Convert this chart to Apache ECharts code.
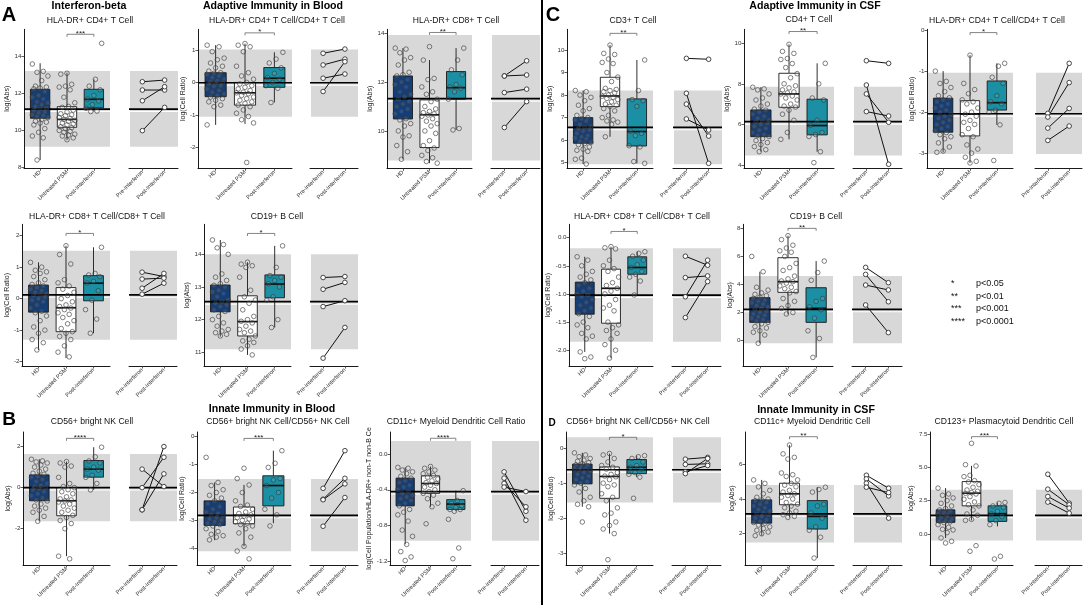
<!DOCTYPE html>
<html><head><meta charset="utf-8">
<script src="https://cdn.jsdelivr.net/npm/echarts@6/dist/echarts.min.js"></script>
<style>html,body{margin:0;padding:0;background:#fff}#c{width:1084px;height:605px}</style>
</head><body><div id="c"></div>
<script>
const groupLabels = ['HD', 'Untreated PSM', 'Post-Interferon'];
const pairLabels = ['Pre-Interferon', 'Post-Interferon'];

// ===== A1 HLA-DR+ CD4+ T Cell (blood, log Abs) =====
const A1_hd = [13.6,13.2,13.15,12.95,12.7,12.4,12.35,12.3,12.25,12.1,11.9,11.8,11.7,11.55,11.5,11.4,11.3,11.2,11.15,11.1,11.0,10.95,10.85,10.8,10.75,10.7,10.6,10.5,10.45,10.4,10.3,10.1,9.9,9.7,9.6,8.4];
const A1_untreated = [13.1,13.05,12.5,12.4,12.35,12.2,11.8,11.5,11.3,11.25,11.1,11.0,10.9,10.85,10.8,10.7,10.65,10.6,10.55,10.5,10.4,10.35,10.3,10.2,10.15,10.1,10.0,9.95,9.9,9.8,9.75,9.7,9.6,9.5];
const A1_post = [14.72,12.77,12.4,12.2,11.9,11.7,11.6,11.4,11.2,11.05,11.02];
const A1_box = [[8.4,10.66,11.16,12.23,13.64],[9.48,10.17,10.6,11.29,13.13],[11.02,11.23,11.69,12.23,12.77]];
const A1_ref = [9.12,13.22,11.16];
const A1_pre = [12.64,12.19,11.61,9.99];
const A1_after = [12.73,12.19,12.37,11.25];

// ===== A2 HLA-DR+ CD4+ T Cell/CD4+ T Cell (blood) =====
const A2_hd = [1.15,1.1,0.95,0.75,0.7,0.6,0.5,0.45,0.35,0.3,0.28,0.25,0.2,0.15,0.1,0.05,0.02,0,-0.02,-0.05,-0.1,-0.12,-0.2,-0.25,-0.3,-0.35,-0.4,-0.45,-0.5,-0.55,-0.6,-0.7,-0.75,-1.31];
const A2_untreated = [1.2,1.15,1.1,0.95,0.5,0.3,0.2,0.1,0.0,-0.05,-0.1,-0.15,-0.2,-0.25,-0.3,-0.32,-0.35,-0.4,-0.45,-0.5,-0.55,-0.6,-0.65,-0.7,-0.75,-0.85,-0.95,-1.05,-1.15,-1.25,-2.47];
const A2_post = [0.93,0.72,0.6,0.45,0.28,0.15,0.1,0.0,-0.1,-0.18,-0.62];
const A2_box = [[-1.31,-0.44,0.0,0.30,1.15],[-1.28,-0.70,-0.32,0.0,1.2],[-0.62,-0.15,0.13,0.46,0.93]];
const A2_ref = [-1.06,1.02,-0.01];
const A2_pre = [0.9,0.54,0.13,-0.28];
const A2_after = [1.03,0.72,0.26,0.64];

// ===== A3 HLA-DR+ CD8+ T Cell (blood, log Abs) =====
const A3_hd = [13.39,13.35,13.2,13.0,12.9,12.7,12.4,12.3,12.25,12.1,12.0,11.9,11.8,11.6,11.5,11.4,11.3,11.2,11.1,11.0,10.9,10.8,10.7,10.5,10.45,10.3,10.2,10.0,9.8,9.75,9.4,9.15,8.84];
const A3_untreated = [13.45,12.9,12.15,12.1,11.8,11.6,11.5,11.3,11.2,11.0,10.9,10.8,10.75,10.7,10.65,10.6,10.5,10.4,10.3,10.2,10.0,9.9,9.6,9.4,9.3,9.2,9.0,8.9,8.75,8.68];
const A3_post = [13.39,12.9,12.5,12.3,11.9,11.8,11.75,11.6,11.3,10.1,10.04];
const A3_box = [[8.84,10.49,11.32,12.25,13.39],[8.68,9.32,10.66,11.27,12.9],[10.04,11.30,11.77,12.43,13.39]];
const A3_ref = [8.79,13.93,11.32];
const A3_pre = [12.25,12.25,11.57,10.14];
const A3_after = [12.87,12.29,11.71,11.2];

// ===== C1 CD3+ T Cell (CSF, log Abs) =====
const C1_hd = [8.2,8.15,8.0,7.9,7.75,7.55,7.4,7.3,7.1,7.0,6.95,6.9,6.85,6.7,6.6,6.55,6.5,6.45,6.4,6.3,6.2,6.15,6.1,6.05,5.95,5.9,5.85,5.8,5.7,5.6,5.55,5.5,5.2,5.15,4.94];
const C1_untreated = [10.22,9.85,9.8,9.6,9.45,9.4,9.0,8.8,8.6,8.3,8.25,8.2,8.15,8.1,8.0,7.95,7.9,7.85,7.8,7.7,7.6,7.55,7.5,7.4,7.3,7.1,7.0,6.9,6.85,6.8,6.7,6.15];
const C1_post = [9.56,8.2,7.8,7.75,7.5,6.4,6.3,6.2,5.75,5.7,5.05,4.97];
const C1_box = [[4.94,5.86,6.57,7.0,8.2],[6.15,7.49,7.96,8.79,10.22],[4.97,5.74,6.38,7.83,9.56]];
const C1_ref = [4.93,8.2,6.57];
const C1_pre = [9.63,8.08,7.6,6.94];
const C1_after = [9.59,4.97,6.18,6.45];

// ===== C2 CD4+ T Cell (CSF, log Abs) =====
const C2_hd = [7.83,7.75,7.7,7.5,7.3,7.2,7.0,6.9,6.75,6.7,6.6,6.5,6.4,6.3,6.2,6.15,6.1,6.05,6.0,5.9,5.8,5.7,5.6,5.5,5.45,5.4,5.3,5.2,5.1,5.0,4.9,4.75,4.65];
const C2_untreated = [9.95,9.6,9.5,9.25,9.2,9.0,8.8,8.5,8.3,8.0,7.9,7.8,7.7,7.6,7.55,7.5,7.4,7.3,7.2,7.0,6.9,6.85,6.7,6.5,6.2,5.6,5.26];
const C2_post = [9.01,8.0,7.3,7.2,6.2,5.95,5.6,5.5,5.4,4.65,4.11];
const C2_box = [[4.65,5.39,6.13,6.71,7.83],[5.26,6.84,7.5,8.52,9.95],[4.65,5.48,5.94,7.24,9.01]];
const C2_ref = [4.46,7.86,6.13];
const C2_pre = [9.14,7.94,7.5,6.63];
const C2_after = [9.01,4.03,6.1,6.41];

// ===== C3 HLA-DR+ CD4+ T Cell/CD4+ T Cell (CSF) =====
const C3_hd = [-1.0,-1.25,-1.3,-1.4,-1.5,-1.6,-1.65,-1.7,-1.75,-1.8,-1.85,-1.9,-1.95,-2.0,-2.05,-2.1,-2.15,-2.2,-2.25,-2.3,-2.35,-2.4,-2.45,-2.5,-2.55,-2.6,-2.65,-2.75,-2.85,-2.95,-2.98];
const C3_untreated = [-0.61,-1.3,-1.45,-1.55,-1.7,-1.75,-1.8,-1.9,-2.0,-2.05,-2.1,-2.2,-2.25,-2.3,-2.4,-2.55,-2.6,-2.8,-2.9,-3.0,-3.1,-3.2,-3.24];
const C3_post = [-0.81,-0.88,-1.15,-1.3,-1.6,-1.75,-1.8,-1.95,-2.0,-2.31,-3.18];
const C3_box = [[-2.98,-2.49,-2.04,-1.66,-1.0],[-3.24,-2.58,-2.05,-1.72,-0.61],[-2.31,-1.95,-1.77,-1.24,-0.81]];
const C3_ref = [-3.02,-1.04,-2.04];
const C3_pre = [-2.03,-2.12,-2.39,-2.69];
const C3_after = [-0.81,-1.28,-1.91,-2.34];

// ===== A4 HLA-DR+ CD8+ T Cell/CD8+ T Cell (blood) =====
const A4_hd = [1.15,1.0,0.9,0.85,0.8,0.7,0.6,0.5,0.45,0.4,0.35,0.3,0.25,0.2,0.15,0.12,0.1,0.05,0.0,-0.05,-0.1,-0.2,-0.3,-0.4,-0.45,-0.55,-0.7,-0.9,-1.0,-1.1,-1.3,-1.4,-1.63];
const A4_untreated = [1.68,1.4,1.1,0.6,0.5,0.4,0.3,0.2,0.1,0.0,-0.1,-0.2,-0.25,-0.3,-0.35,-0.45,-0.5,-0.6,-0.7,-0.8,-0.95,-1.05,-1.1,-1.2,-1.3,-1.5,-1.7,-1.85];
const A4_post = [1.63,0.8,0.75,0.7,0.55,0.5,0.25,-0.05,-0.35,-0.65,-1.1];
const A4_box = [[-1.63,-0.43,0.12,0.43,1.15],[-1.89,-1.05,-0.29,0.35,1.68],[-1.1,-0.07,0.49,0.73,1.63]];
const A4_ref = [-1.31,1.52,0.12];
const A4_pre = [0.84,0.62,0.33,0.14];
const A4_after = [0.7,0.65,0.8,0.49];

// ===== A5 CD19+ B Cell (blood, log Abs) =====
const A5_hd = [14.44,14.3,14.2,14.0,13.4,13.3,13.2,13.1,13.05,13.0,12.9,12.85,12.8,12.7,12.6,12.55,12.5,12.45,12.4,12.3,12.25,12.1,12.0,11.9,11.8,11.7,11.65,11.6,11.55,11.5];
const A5_untreated = [13.76,13.7,13.65,13.6,13.3,12.9,12.7,12.6,12.5,12.3,12.1,12.0,11.95,11.9,11.8,11.7,11.65,11.6,11.5,11.4,11.35,11.3,11.2,11.1,10.92];
const A5_post = [14.26,13.6,13.35,13.3,13.2,13.1,13.0,12.7,12.6,12.0,11.76];
const A5_box = [[11.48,12.24,12.55,13.06,14.44],[10.92,11.5,11.94,12.73,13.76],[11.76,12.67,13.09,13.37,14.26]];
const A5_ref = [11.09,14.0,12.55];
const A5_pre = [13.29,12.93,12.4,10.82];
const A5_after = [13.32,13.14,12.58,11.76];

// ===== C4 HLA-DR+ CD8+ T Cell/CD8+ T Cell (CSF) =====
const C4_hd = [-0.34,-0.4,-0.5,-0.6,-0.65,-0.7,-0.75,-0.8,-0.85,-0.9,-0.95,-1.0,-1.02,-1.05,-1.1,-1.15,-1.2,-1.25,-1.3,-1.35,-1.4,-1.5,-1.55,-1.6,-1.7,-1.75,-1.8,-2.03,-2.12,-2.15];
const C4_untreated = [-0.16,-0.18,-0.2,-0.4,-0.5,-0.55,-0.6,-0.7,-0.8,-0.85,-0.9,-0.95,-1.0,-1.1,-1.2,-1.25,-1.3,-1.5,-1.55,-1.6,-1.65,-1.7,-1.8,-1.9,-2.0,-2.14];
const C4_post = [-0.25,-0.28,-0.33,-0.4,-0.48,-0.53,-0.6,-0.65,-0.7,-0.77,-1.02];
const C4_box = [[-2.03,-1.36,-1.02,-0.79,-0.34],[-2.14,-1.52,-0.9,-0.56,-0.16],[-1.02,-0.65,-0.53,-0.34,-0.25]];
const C4_ref = [-1.85,-0.19,-1.02];
const C4_pre = [-0.33,-0.71,-1.05,-1.42];
const C4_after = [-0.49,-0.68,-0.4,-0.78];

// ===== C5 CD19+ B Cell (CSF, log Abs) =====
const C5_hd = [6.0,4.91,3.8,3.6,3.4,3.3,3.2,3.1,3.0,2.9,2.8,2.7,2.6,2.5,2.4,2.3,2.2,2.1,2.0,1.9,1.8,1.7,1.6,1.5,1.4,1.3,1.2,1.0,0.9,0.7,0.6,0.4,-0.19];
const C5_untreated = [7.48,7.2,6.8,6.6,6.4,6.3,6.0,5.5,5.2,5.0,4.6,4.4,4.25,4.2,4.1,3.9,3.8,3.7,3.5,3.4,3.0,2.8,2.5,2.3,2.0,1.9];
const C5_post = [5.67,4.85,4.3,3.0,2.8,2.4,2.2,1.6,0.7,0.15,-1.2];
const C5_box = [[-0.19,1.3,2.23,3.06,4.91],[1.87,3.44,4.2,5.91,7.48],[-1.2,1.3,2.3,3.77,5.67]];
const C5_ref = [-0.19,4.6,2.23];
const C5_pre = [5.22,4.72,3.96,2.54];
const C5_after = [4.13,2.77,3.61,0.57];

// ===== B1 CD56+ bright NK Cell (blood, log Abs) =====
const B1_hd = [1.38,1.3,1.25,1.2,1.1,1.0,0.9,0.8,0.7,0.65,0.55,0.5,0.4,0.3,0.2,0.1,0.05,0.0,-0.05,-0.1,-0.2,-0.3,-0.4,-0.5,-0.6,-0.65,-0.8,-0.9,-1.0,-1.1,-1.2,-1.4,-1.64];
const B1_untreated = [1.27,1.2,1.05,1.0,0.5,0.2,0.05,0.0,-0.1,-0.2,-0.3,-0.45,-0.55,-0.6,-0.65,-0.7,-0.8,-0.9,-1.0,-1.1,-1.2,-1.35,-1.45,-1.6,-1.75,-2.0,-3.34,-3.47];
const B1_post = [1.97,1.5,1.3,1.2,1.0,0.9,0.85,0.6,0.5,0.2,-0.11];
const B1_box = [[-1.64,-0.64,0.0,0.62,1.38],[-3.34,-1.37,-0.64,0.0,1.27],[-0.11,0.51,0.9,1.32,1.97]];
const B1_ref = [-1.64,1.64,0.0];
const B1_pre = [0.9,0.0,-1.08,-1.08];
const B1_after = [0.05,1.48,2.0,0.67];

// ===== B2 CD56+ bright NK Cell/CD56+ NK Cell (blood) =====
const B2_hd = [-0.74,-1.64,-1.75,-1.9,-2.0,-2.1,-2.2,-2.3,-2.4,-2.5,-2.6,-2.7,-2.75,-2.8,-2.85,-2.9,-2.95,-3.0,-3.05,-3.1,-3.15,-3.2,-3.3,-3.4,-3.5,-3.55,-3.6,-3.7];
const B2_untreated = [-1.13,-1.5,-1.73,-2.0,-2.3,-2.45,-2.5,-2.6,-2.7,-2.75,-2.8,-2.85,-2.9,-2.95,-3.0,-3.05,-3.1,-3.15,-3.2,-3.3,-3.45,-3.6,-3.93,-4.1,-4.38];
const B2_post = [-0.5,-0.95,-1.1,-1.5,-1.55,-1.75,-2.0,-2.2,-2.6,-2.8,-3.2];
const B2_box = [[-3.71,-3.18,-2.82,-2.3,-1.64],[-3.93,-3.12,-2.82,-2.52,-1.73],[-3.1,-2.48,-1.75,-1.4,-0.5]];
const B2_ref = [-4.11,-1.52,-2.82];
const B2_pre = [-1.85,-2.24,-2.26,-3.21];
const B2_after = [-0.5,-1.49,-1.69,-2.18];

// ===== B3 CD11c+ Myeloid Dendritic Cell Ratio (blood) =====
const B3_hd = [-0.15,-0.16,-0.18,-0.2,-0.22,-0.25,-0.27,-0.3,-0.32,-0.35,-0.37,-0.4,-0.42,-0.44,-0.46,-0.48,-0.5,-0.52,-0.55,-0.58,-0.62,-0.65,-0.68,-0.75,-0.85,-0.92,-1.01,-1.09,-1.15,-1.19];
const B3_untreated = [-0.14,-0.16,-0.18,-0.2,-0.22,-0.24,-0.26,-0.28,-0.3,-0.32,-0.33,-0.35,-0.37,-0.4,-0.42,-0.44,-0.46,-0.5,-0.55,-0.59,-0.78];
const B3_post = [-0.41,-0.52,-0.55,-0.58,-0.6,-0.62,-0.62,-0.64,-0.73,-1.05,-1.17];
const B3_box = [[-1.01,-0.58,-0.42,-0.27,-0.15],[-0.59,-0.44,-0.33,-0.245,-0.14],[-0.64,-0.62,-0.56,-0.51,-0.41]];
const B3_ref = [-0.97,0.145,-0.42];
const B3_pre = [-0.2,-0.27,-0.33,-0.37];
const B3_after = [-0.64,-0.74,-0.59,-0.42];

// ===== D1 CD56+ bright NK Cell/CD56+ NK Cell (CSF) =====
const D1_hd = [-0.14,-0.2,-0.25,-0.3,-0.35,-0.38,-0.42,-0.45,-0.48,-0.5,-0.55,-0.58,-0.6,-0.62,-0.65,-0.7,-0.75,-0.8,-0.85,-0.9,-0.95,-1.0,-1.05,-1.15,-1.25,-1.4,-1.5,-1.6,-1.67,-2.1];
const D1_untreated = [-0.16,-0.2,-0.3,-0.4,-0.5,-0.55,-0.6,-0.7,-0.75,-0.8,-0.82,-0.9,-1.0,-1.05,-1.1,-1.3,-1.4,-1.5,-1.7,-1.85,-1.9,-2.1,-2.2,-2.3,-2.43,-3.17];
const D1_post = [-0.22,-0.25,-0.3,-0.4,-0.5,-0.55,-0.6,-0.7,-0.75,-0.83,-1.43];
const D1_box = [[-1.67,-1.02,-0.62,-0.46,-0.14],[-2.43,-1.43,-0.81,-0.54,-0.16],[-0.83,-0.73,-0.55,-0.33,-0.22]];
const D1_ref = [-1.55,0.3,-0.62];
const D1_pre = [-0.32,-0.47,-0.68,-0.73];
const D1_after = [-0.27,-0.45,-0.5,-0.3];

// ===== D2 CD11c+ Myeloid Dendritic Cell (CSF, log Abs) =====
const D2_hd = [5.1,4.9,4.7,4.5,4.3,4.1,4.0,3.95,3.9,3.8,3.7,3.6,3.5,3.4,3.3,3.2,3.15,3.1,3.0,2.9,2.8,2.7,2.65,2.6,2.5,2.4,2.3,2.2,2.1,2.0,1.89];
const D2_untreated = [7.11,6.6,6.4,6.3,5.5,5.4,5.3,5.1,4.9,4.8,4.7,4.5,4.4,4.3,4.2,4.1,4.0,3.8,3.7,3.6,3.5,3.3,3.2,3.1,3.0,2.94];
const D2_post = [4.68,4.55,4.4,3.7,3.6,3.2,2.9,2.4,2.2,1.8,0.6];
const D2_box = [[1.89,2.61,3.15,3.95,5.1],[2.94,3.67,4.3,4.91,7.11],[0.6,2.27,3.0,3.91,4.68]];
const D2_ref = [1.5,4.81,3.15];
const D2_pre = [5.37,5.16,4.91,4.68];
const D2_after = [4.62,4.18,2.9,4.37];

// ===== D3 CD123+ Plasmacytoid Dendritic Cell (CSF, log Abs) =====
const D3_hd = [3.44,3.0,2.9,2.7,2.5,2.3,2.1,1.9,1.8,1.7,1.6,1.5,1.45,1.4,1.35,1.3,1.2,1.1,1.0,0.95,0.9,0.85,0.7,0.5,0.35,0.3,0.1,-0.3,-0.55,-0.68];
const D3_untreated = [6.8,5.2,5.1,4.4,4.3,4.0,3.9,3.7,3.5,3.3,3.2,3.1,3.05,3.0,2.8,2.6,2.4,2.2,2.1,1.8,1.5,1.4,1.1,1.02,-0.88,-1.3];
const D3_post = [2.36,2.3,2.1,2.0,1.7,1.5,1.3,1.0,0.7,-1.68,-1.88];
const D3_box = [[-0.3,0.87,1.39,1.81,3.44],[1.02,2.11,3.06,3.93,5.11],[0.57,0.94,1.52,2.11,2.36]];
const D3_ref = [-0.5,3.31,1.39];
const D3_pre = [4.48,3.36,2.81,2.39];
const D3_after = [2.31,2.19,1.94,1.56];

// tick labels per panel
const A1_ticks=[8,10,12,14], A2_ticks=[-2,-1,0,1], A3_ticks=[10,12,14], C1_ticks=[5,6,7,8,9,10], C2_ticks=[4,6,8,10], C3_ticks=[-3,-2,-1,0];
const A4_ticks=[-2,-1,0,1,2], A5_ticks=[11,12,13,14], C4_ticks=[-2,-1.5,-1,-0.5,0], C5_ticks=[0,2,4,6,8];
const B1_ticks=[-2,0,2], B2_ticks=[-4,-3,-2,-1,0], B3_ticks=[-1.2,-0.8,-0.4,0], D1_ticks=[-3,-2,-1,0], D2_ticks=[2,4,6], D3_ticks=[0,2.5,5,7.5];

const FONT = '"Liberation Sans", Arial, Helvetica, sans-serif';
const R1 = {top:29.3, h:139}, R2 = {top:224.3, h:141.7}, R3 = {top:432, h:133};

const panels = [
 {title:'HLA-DR+ CD4+ T Cell', yName:'log(Abs)', ticks:A1_ticks, dec:0, yMin:7.95, yMax:15.48, stars:'***', br:15.21, hd:A1_hd, un:A1_untreated, po:A1_post, box:A1_box, ref:A1_ref, pre:A1_pre, aft:A1_after, r:R1, bx:[24,110], px:[129,178], tx:90, ty:21, gap:11},
 {title:'HLA-DR+ CD4+ T Cell/CD4+ T Cell', yName:'log(Cell Ratio)', ticks:A2_ticks, dec:0, yMin:-2.65, yMax:1.64, stars:'*', br:1.53, hd:A2_hd, un:A2_untreated, po:A2_post, box:A2_box, ref:A2_ref, pre:A2_pre, aft:A2_after, r:R1, bx:[198,292], px:[310,358], tx:277, ty:21, gap:9},
 {title:'HLA-DR+ CD8+ T Cell', yName:'log(Abs)', ticks:A3_ticks, dec:0, yMin:8.47, yMax:14.16, stars:'**', br:14.03, hd:A3_hd, un:A3_untreated, po:A3_post, box:A3_box, ref:A3_ref, pre:A3_pre, aft:A3_after, r:R1, bx:[387,472], px:[491,540], tx:456, ty:21, gap:11},
 {title:'CD3+ T Cell', yName:'log(Abs)', ticks:C1_ticks, dec:0, yMin:4.75, yMax:10.92, stars:'**', br:10.74, hd:C1_hd, un:C1_untreated, po:C1_post, box:C1_box, ref:C1_ref, pre:C1_pre, aft:C1_after, r:R1, bx:[567,653], px:[673,722], tx:633, ty:21, gap:9},
 {title:'CD4+ T Cell', yName:'log(Abs)', ticks:C2_ticks, dec:0, yMin:3.83, yMax:10.69, stars:'**', br:10.58, hd:C2_hd, un:C2_untreated, po:C2_post, box:C2_box, ref:C2_ref, pre:C2_pre, aft:C2_after, r:R1, bx:[744,834], px:[853,902], tx:809, ty:20, gap:11},
 {title:'HLA-DR+ CD4+ T Cell/CD4+ T Cell', yName:'log(Cell Ratio)', ticks:C3_ticks, dec:0, yMin:-3.37, yMax:0.02, stars:'*', br:-0.06, hd:C3_hd, un:C3_untreated, po:C3_post, box:C3_box, ref:C3_ref, pre:C3_pre, aft:C3_after, r:R1, bx:[927,1013], px:[1035,1082], tx:997, ty:21, gap:9},
 {title:'HLA-DR+ CD8+ T Cell/CD8+ T Cell', yName:'log(Cell Ratio)', ticks:A4_ticks, dec:0, yMin:-2.14, yMax:2.36, stars:'*', br:2.07, hd:A4_hd, un:A4_untreated, po:A4_post, box:A4_box, ref:A4_ref, pre:A4_pre, aft:A4_after, r:R2, bx:[22,110], px:[129,177], tx:97, ty:217, gap:9},
 {title:'CD19+ B Cell', yName:'log(Abs)', ticks:A5_ticks, dec:0, yMin:10.58, yMax:14.92, stars:'*', br:14.64, hd:A5_hd, un:A5_untreated, po:A5_post, box:A5_box, ref:A5_ref, pre:A5_pre, aft:A5_after, r:R2, bx:[204,291], px:[310,358], tx:277, ty:217, gap:11},
 {title:'HLA-DR+ CD8+ T Cell/CD8+ T Cell', yName:'log(Cell Ratio)', ticks:C4_ticks, dec:1, yMin:-2.28, yMax:0.237, stars:'*', br:0.11, hd:C4_hd, un:C4_untreated, po:C4_post, box:C4_box, ref:C4_ref, pre:C4_pre, aft:C4_after, r:R2, bx:[569,653], px:[672,721], tx:642, ty:217, gap:15},
 {title:'CD19+ B Cell', yName:'log(Abs)', ticks:C5_ticks, dec:0, yMin:-1.81, yMax:8.29, stars:'**', br:8.0, hd:C5_hd, un:C5_untreated, po:C5_post, box:C5_box, ref:C5_ref, pre:C5_pre, aft:C5_after, r:R2, bx:[743,833], px:[852,902], tx:816, ty:217, gap:8},
 {title:'CD56+ bright NK Cell', yName:'log(Abs)', ticks:B1_ticks, dec:0, yMin:-3.77, yMax:2.71, stars:'****', br:2.4, hd:B1_hd, un:B1_untreated, po:B1_post, box:B1_box, ref:B1_ref, pre:B1_pre, aft:B1_after, r:R3, bx:[23,110], px:[129,177], tx:92, ty:422, gap:9},
 {title:'CD56+ bright NK Cell/CD56+ NK Cell', yName:'log(Cell Ratio)', ticks:B2_ticks, dec:0, yMin:-4.6, yMax:0.17, stars:'***', br:-0.06, hd:B2_hd, un:B2_untreated, po:B2_post, box:B2_box, ref:B2_ref, pre:B2_pre, aft:B2_after, r:R3, bx:[197,291], px:[310,358], tx:278, ty:422, gap:9},
 {title:'CD11c+ Myeloid Dendritic Cell Ratio', yName:'log(Cell Population/HLA-DR+ non-T non-B Ce', ticks:B3_ticks, dec:1, yMin:-1.24, yMax:0.245, stars:'****', br:0.175, hd:B3_hd, un:B3_untreated, po:B3_post, box:B3_box, ref:B3_ref, pre:B3_pre, aft:B3_after, r:R3, bx:[390,471], px:[491,539], tx:456, ty:422, gap:15},
 {title:'CD56+ bright NK Cell/CD56+ NK Cell', yName:'log(Cell Ratio)', ticks:D1_ticks, dec:0, yMin:-3.32, yMax:0.45, stars:'*', br:0.3, hd:D1_hd, un:D1_untreated, po:D1_post, box:D1_box, ref:D1_ref, pre:D1_pre, aft:D1_after, r:R3, bx:[566,653], px:[672,721], tx:638, ty:422, gap:9},
 {title:'CD11c+ Myeloid Dendritic Cell', yName:'log(Abs)', ticks:D2_ticks, dec:0, yMin:0.2, yMax:7.86, stars:'**', br:7.59, hd:D2_hd, un:D2_untreated, po:D2_post, box:D2_box, ref:D2_ref, pre:D2_pre, aft:D2_after, r:R3, bx:[745,834], px:[853,902], tx:812, ty:422, gap:8},
 {title:'CD123+ Plasmacytoid Dendritic Cell', yName:'log(Abs)', ticks:D3_ticks, dec:1, yMin:-2.33, yMax:7.65, stars:'***', br:7.3, hd:D3_hd, un:D3_untreated, po:D3_post, box:D3_box, ref:D3_ref, pre:D3_pre, aft:D3_after, r:R3, bx:[930,1013], px:[1035,1082], tx:1004, ty:422, gap:11}
];

const BOX_FILL = ['#143e78', '#ffffff', '#1b8fa3'];
const jit = (k, g) => ((((k * 7 + g * 5) % 11) / 10) - 0.5) * 0.58;

function renderBand(params, api) {
  const cs = params.coordSys;
  const yLo = api.coord([1, api.value(1)])[1];
  const yHi = api.coord([1, api.value(2)])[1];
  const yH = api.coord([1, api.value(3)])[1];
  return {type:'group', children:[
    {type:'rect', shape:{x:cs.x + 1, y:yHi, width:cs.width - 1, height:yLo - yHi}, style:{fill:'#d8d8d8'}},
    {type:'line', shape:{x1:cs.x + 1, y1:yH + 2.4, x2:cs.x + cs.width, y2:yH + 2.4}, style:{stroke:'#ffffff', lineWidth:1.1}}
  ]};
}
function renderHline(params, api) {
  const cs = params.coordSys;
  const y = api.coord([1, api.value(1)])[1];
  return {type:'line', shape:{x1:cs.x, y1:y, x2:cs.x + cs.width, y2:y}, style:{stroke:'#000', lineWidth:1.7}};
}
function renderBox(params, api) {
  const g = api.value(0);
  const w = api.size([0.72, 0])[0];
  const x = api.coord([g, api.value(3)])[0];
  const Y = i => api.coord([g, api.value(i)])[1];
  const yMin = Y(1), yQ1 = Y(2), yMed = Y(3), yQ3 = Y(4), yMax = Y(5);
  const ls = {stroke:'#1a1a1a', lineWidth:0.9};
  return {type:'group', children:[
    {type:'line', shape:{x1:x, y1:yMax, x2:x, y2:yQ3}, style:ls},
    {type:'line', shape:{x1:x, y1:yQ1, x2:x, y2:yMin}, style:ls},
    {type:'rect', shape:{x:x - w/2, y:yQ3, width:w, height:yQ1 - yQ3}, style:{fill:BOX_FILL[g-1], stroke:'#1a1a1a', lineWidth:0.9}},
    {type:'line', shape:{x1:x - w/2, y1:yMed, x2:x + w/2, y2:yMed}, style:{stroke:'#111', lineWidth:1.7}}
  ]};
}

const grids = [], xAxes = [], yAxes = [], series = [], graphics = [];

function xAxisDef(gi, max, vals, labels) {
  return {gridIndex:gi, type:'value', min:0.4, max:max,
    axisLine:{show:true, onZero:false, lineStyle:{color:'#000', width:0.9}},
    axisTick:{show:true, customValues:vals, length:2.5, lineStyle:{color:'#333', width:0.8}},
    axisLabel:{show:true, customValues:vals, rotate:45, fontSize:5.8, color:'#333', margin:3, fontFamily:FONT,
      formatter: v => labels[Math.round(v) - 1] || ''},
    splitLine:{show:false}};
}

panels.forEach((p) => {
  const gi = grids.length;
  grids.push({left:p.bx[0], top:p.r.top, width:p.bx[1] - p.bx[0], height:p.r.h, containLabel:false, outerBoundsMode:'none'});
  grids.push({left:p.px[0], top:p.r.top, width:p.px[1] - p.px[0], height:p.r.h, containLabel:false, outerBoundsMode:'none'});
  xAxes.push(xAxisDef(gi, 3.6, [1,2,3], groupLabels));
  xAxes.push(xAxisDef(gi + 1, 2.6, [1,2], pairLabels));
  yAxes.push({gridIndex:gi, type:'value', min:p.yMin, max:p.yMax,
    name:p.yName, nameLocation:'middle', nameGap:p.gap, nameRotate:90,
    nameTextStyle:{fontSize:7, color:'#222', fontFamily:FONT},
    axisLine:{show:true, onZero:false, lineStyle:{color:'#000', width:0.9}},
    axisTick:{show:true, customValues:p.ticks, length:2.5, lineStyle:{color:'#333', width:0.8}},
    axisLabel:{show:true, customValues:p.ticks, fontSize:6.2, color:'#333', margin:2.5, fontFamily:FONT,
      formatter: v => Number(v).toFixed(p.dec)},
    splitLine:{show:false}});
  yAxes.push({gridIndex:gi + 1, type:'value', min:p.yMin, max:p.yMax, show:false, splitLine:{show:false}});

  // box panel
  series.push({type:'custom', xAxisIndex:gi, yAxisIndex:gi, z:1, silent:true, data:[[1, p.ref[0], p.ref[1], p.ref[2]]], renderItem:renderBand});
  series.push({type:'custom', xAxisIndex:gi, yAxisIndex:gi, z:2, silent:true, data:p.box.map((b, g) => [g + 1, ...b]), renderItem:renderBox});
  series.push({type:'custom', xAxisIndex:gi, yAxisIndex:gi, z:3, silent:true, data:[[1, p.ref[2]]], renderItem:renderHline});
  const pts = [];
  [p.hd, p.un, p.po].forEach((arr, g) => arr.forEach((v, k) => pts.push([g + 1 + jit(k, g), v])));
  series.push({type:'scatter', xAxisIndex:gi, yAxisIndex:gi, z:4, silent:true, symbol:'circle', symbolSize:4.6,
    itemStyle:{color:'rgba(255,255,255,0.12)', borderColor:'#3a3a3a', borderWidth:0.8}, data:pts});
  const stars = p.stars;
  series.push({type:'custom', xAxisIndex:gi, yAxisIndex:gi, z:5, silent:true, data:[[2, p.br]],
    renderItem:(params, api) => {
      const a = api.coord([2, api.value(1)]), b = api.coord([3, api.value(1)]);
      return {type:'group', children:[
        {type:'polyline', shape:{points:[[a[0], a[1] + 2.5], [a[0], a[1]], [b[0], b[1]], [b[0], b[1] + 2.5]]}, style:{stroke:'#666', lineWidth:0.8, fill:'none'}},
        {type:'text', x:(a[0] + b[0]) / 2, y:a[1] + 3.2, style:{text:stars, align:'center', verticalAlign:'bottom', fontSize:8, fill:'#222', fontFamily:FONT}}
      ]};
    }});
  // paired panel
  series.push({type:'custom', xAxisIndex:gi + 1, yAxisIndex:gi + 1, z:1, silent:true, data:[[1, p.ref[0], p.ref[1], p.ref[2]]], renderItem:renderBand});
  series.push({type:'custom', xAxisIndex:gi + 1, yAxisIndex:gi + 1, z:3, silent:true, data:[[1, p.ref[2]]], renderItem:renderHline});
  p.pre.forEach((v, k) => {
    series.push({type:'line', xAxisIndex:gi + 1, yAxisIndex:gi + 1, z:4, silent:true, symbol:'circle', symbolSize:4.6, showSymbol:true,
      lineStyle:{color:'#111', width:1}, itemStyle:{color:'#fff', borderColor:'#333', borderWidth:0.9},
      data:[[1, v], [2, p.aft[k]]]});
  });
  graphics.push({type:'text', x:p.tx, y:p.ty, style:{text:p.title, align:'center', verticalAlign:'middle', fill:'#111', font:'8.6px ' + FONT}});
});

const headers = [
  ['Interferon-beta', 89, 6.5], ['Adaptive Immunity in Blood', 273, 6.5], ['Adaptive Immunity in CSF', 815, 6.5],
  ['Innate Immunity in Blood', 272, 409], ['Innate Immunity in CSF', 816, 410]
];
headers.forEach(h => graphics.push({type:'text', x:h[1], y:h[2], style:{text:h[0], align:'center', verticalAlign:'middle', fill:'#000', font:'bold 10.6px ' + FONT}}));
const letters = [['A', 9, 15, 20], ['B', 9, 420, 19], ['C', 553, 15, 20], ['D', 552, 423, 10]];
letters.forEach(l => graphics.push({type:'text', x:l[1], y:l[2], style:{text:l[0], align:'center', verticalAlign:'middle', fill:'#000', font:'bold ' + l[3] + 'px ' + FONT}}));
graphics.push({type:'line', shape:{x1:542, y1:0, x2:542, y2:605}, style:{stroke:'#000', lineWidth:2}});
const legendStars = ['*', '**', '***', '****'];
const legendText = ['p<0.05', 'p<0.01', 'p<0.001', 'p<0.0001'];
legendStars.forEach((s, i) => {
  graphics.push({type:'text', x:951, y:284 + i * 12.4, style:{text:s, align:'left', verticalAlign:'middle', fill:'#111', font:'9px ' + FONT}});
  graphics.push({type:'text', x:976, y:284 + i * 12.4, style:{text:legendText[i], align:'left', verticalAlign:'middle', fill:'#111', font:'9px ' + FONT}});
});

const chart = echarts.init(document.getElementById('c'), null, {renderer:'canvas'});
chart.setOption({
  animation:false, backgroundColor:'#fff', textStyle:{fontFamily:FONT},
  grid:grids, xAxis:xAxes, yAxis:yAxes, series:series, graphic:graphics
});
</script></body></html>
